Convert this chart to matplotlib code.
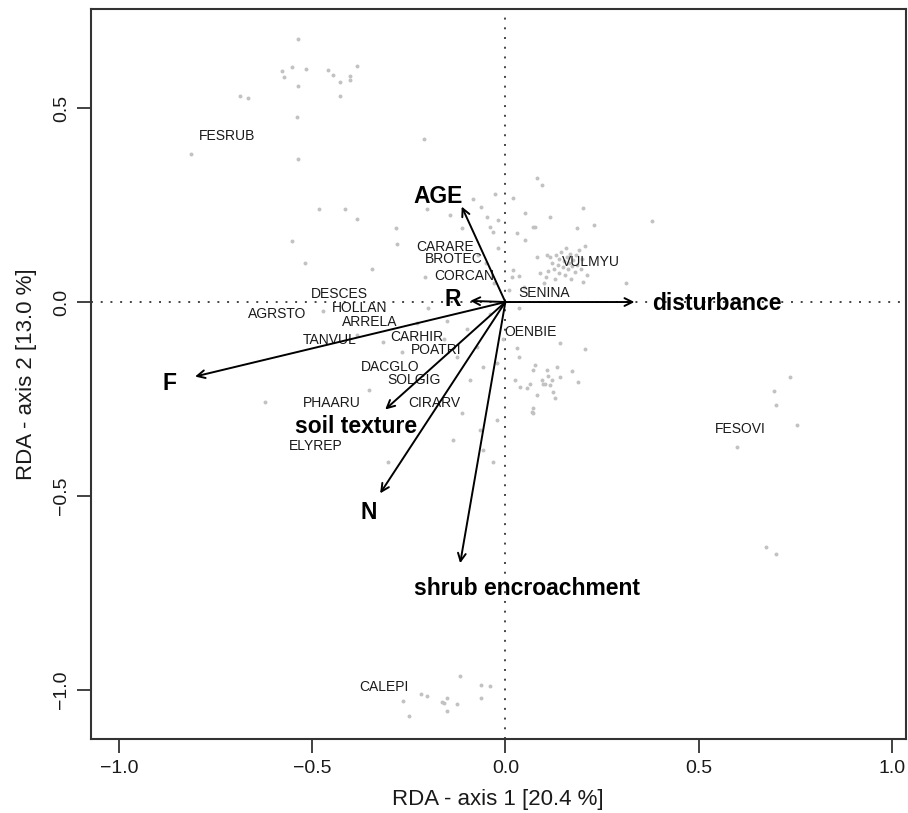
"""RDA biplot: sites as grey dots, species names and environmental arrows."""

import matplotlib
matplotlib.use("Agg")
import matplotlib.pyplot as plt

plt.rcParams['font.family'] = ['Liberation Sans', 'DejaVu Sans']

# Site scores (grey dots).
site_x = [-0.537, -0.579, -0.574, -0.553, -0.516, -0.459, -0.447, -0.428, -0.402, -0.402, -0.385, -0.537,
          -0.686, -0.667, -0.428, -0.540, -0.813, -0.536, -0.210, -0.481, -0.415, -0.385, -0.551, -0.518,
          -0.346, -0.284, -0.281,
          -0.083, -0.028, -0.063, -0.048, -0.040, -0.018, -0.031, 0.021, 0.051, 0.081, 0.094, 0.072, 0.029,
          0.051, -0.113, -0.203, -0.143, 0.017, 0.036, 0.081, 0.107, -0.208, 0.200, 0.230, 0.185, 0.379,
          0.311, 0.200, 0.116, 0.077, 0.021, 0.047, -0.070, -0.050, -0.020, 0.010, -0.030,
          0.115, 0.120, 0.125, 0.130, 0.135, 0.140, 0.140, 0.145, 0.150, 0.152, 0.155, 0.160, 0.162, 0.165,
          0.168, 0.170, 0.172, 0.175, 0.180, 0.182, 0.185, 0.190, 0.195, 0.198, 0.205, 0.210, 0.105, 0.110,
          0.128, 0.158, 0.090, 0.100,
          0.077, 0.107, 0.133, 0.172, 0.094, 0.103, 0.120, 0.142, 0.189, 0.055, 0.081, 0.124, 0.129, 0.072,
          0.072, 0.206, 0.142, 0.029, 0.025, 0.034, 0.038, 0.064, 0.098, 0.068, 0.072, 0.110, 0.115,
          -0.471, -0.316, -0.268, -0.354, -0.622, -0.304, -0.135, -0.113, -0.065, -0.057, -0.091, -0.057,
          -0.074, -0.022, -0.005, -0.022, -0.031, -0.126, -0.160, -0.229, -0.199, 0.034, -0.385, -0.150,
          -0.100, -0.040,
          0.736, 0.694, 0.700, 0.754, 0.599, 0.675, 0.700,
          -0.118, -0.064, -0.040, -0.219, -0.204, -0.152, -0.163, -0.160, -0.125, -0.063, -0.264, -0.150,
          -0.249]
site_y = [0.678, 0.596, 0.581, 0.606, 0.601, 0.598, 0.584, 0.567, 0.582, 0.572, 0.608, 0.557,
          0.531, 0.526, 0.531, 0.476, 0.381, 0.369, 0.420, 0.240, 0.240, 0.214, 0.158, 0.100,
          0.084, 0.192, 0.150,
          0.265, 0.278, 0.246, 0.220, 0.194, 0.211, 0.181, 0.267, 0.229, 0.319, 0.302, 0.194, 0.177,
          0.160, 0.190, 0.241, 0.224, 0.065, 0.067, 0.117, 0.121, 0.065, 0.243, 0.198, 0.190, 0.210,
          0.050, 0.052, 0.220, 0.193, 0.082, 0.039, 0.120, 0.100, 0.140, 0.030, 0.050,
          0.115, 0.100, 0.085, 0.120, 0.095, 0.075, 0.110, 0.130, 0.090, 0.105, 0.070, 0.115, 0.085, 0.100,
          0.125, 0.060, 0.092, 0.108, 0.078, 0.120, 0.095, 0.135, 0.085, 0.110, 0.145, 0.070, 0.065, 0.080,
          0.060, 0.140, 0.075, 0.050,
          -0.162, -0.175, -0.167, -0.177, -0.201, -0.210, -0.201, -0.193, -0.205, -0.222, -0.240, -0.231,
          -0.248, -0.274, -0.287, -0.122, -0.105, -0.119, -0.201, -0.141, -0.218, -0.210, -0.210, -0.283,
          -0.175, -0.190, -0.215,
          -0.022, -0.102, -0.130, -0.227, -0.257, -0.412, -0.356, -0.287, -0.330, -0.381, -0.201, -0.167,
          -0.115, -0.158, -0.094, -0.304, -0.412, -0.141, -0.094, -0.055, -0.016, -0.016, -0.085, -0.050,
          -0.070, -0.030,
          -0.193, -0.229, -0.265, -0.317, -0.373, -0.632, -0.648,
          -0.963, -0.986, -0.989, -1.010, -1.014, -1.020, -1.030, -1.033, -1.036, -1.021, -1.027, -1.053,
          -1.066]

# Species labels.
species = ['FESRUB', 'CARARE', 'BROTEC', 'CORCAN', 'VULMYU', 'SENINA', 'DESCES', 'HOLLAN', 'AGRSTO',
           'ARRELA', 'TANVUL', 'CARHIR', 'POATRI', 'OENBIE', 'DACGLO', 'SOLGIG', 'PHAARU', 'CIRARV',
           'ELYREP', 'FESOVI', 'CALEPI']
species_x = [-0.720, -0.156, -0.133, -0.107, 0.222, 0.101, -0.430, -0.378, -0.591,
             -0.350, -0.455, -0.229, -0.180, 0.066, -0.298, -0.236, -0.449, -0.184,
             -0.491, 0.607, -0.315]
species_y = [0.428, 0.143, 0.110, 0.067, 0.104, 0.024, 0.021, -0.016, -0.031,
             -0.052, -0.098, -0.089, -0.124, -0.078, -0.168, -0.201, -0.261, -0.261,
             -0.370, -0.326, -0.991]

# Environmental arrows (tips) and their labels.
env_names = ['AGE', 'R', 'disturbance', 'F', 'soil texture', 'N', 'shrub encroachment']
env_x = [-0.113, -0.091, 0.334, -0.803, -0.311, -0.324, -0.117]
env_y = [0.246, 0.003, 0.000, -0.192, -0.277, -0.493, -0.673]
env_label_x = [-0.175, -0.137, 0.547, -0.869, -0.387, -0.353, 0.055]
env_label_y = [0.273, 0.006, -0.005, -0.211, -0.321, -0.542, -0.738]

fig = plt.figure(figsize=(9.08, 8.13), dpi=100)
ax = fig.add_axes([0.0999, 0.0910, 0.8976, 0.8979])

ax.axhline(0, color='#444444', linestyle=(0, (1, 4)), linewidth=1.4, zorder=1)
ax.axvline(0, color='#444444', linestyle=(0, (1, 4)), linewidth=1.4, zorder=1)

ax.scatter(site_x, site_y, s=8, color='#c2c2c2', linewidths=0, zorder=2)

for name, x, y in zip(species, species_x, species_y):
    ax.text(x, y, name, fontsize=10, color='#1a1a1a', ha='center', va='center', zorder=3)

for x, y in zip(env_x, env_y):
    ax.annotate('', xy=(x, y), xytext=(0, 0),
                arrowprops=dict(arrowstyle='->', color='black', lw=1.4,
                                mutation_scale=14, shrinkA=0, shrinkB=0), zorder=4)

for name, x, y in zip(env_names, env_label_x, env_label_y):
    ax.text(x, y, name, fontsize=16.5, fontweight='bold', color='black', ha='center', va='center', zorder=5)

ax.set_xlim(-1.073, 1.036)
ax.set_ylim(-1.126, 0.755)
ax.set_xticks([-1.0, -0.5, 0.0, 0.5, 1.0])
ax.set_yticks([-1.0, -0.5, 0.0, 0.5])
ax.set_xticklabels(['\u22121.0', '\u22120.5', '0.0', '0.5', '1.0'])
ax.set_yticklabels(['\u22121.0', '\u22120.5', '0.0', '0.5'])
ax.tick_params(length=10, width=1.3, color='#333333', labelsize=14, pad=5, labelcolor='#1a1a1a')
ax.tick_params(axis='y', labelrotation=90)
for lab in ax.get_yticklabels():
    lab.set_va('center')
for side in ax.spines.values():
    side.set_linewidth(1.5)
    side.set_color('#333333')

ax.set_xlabel('RDA - axis 1 [20.4 %]', fontsize=16, color='#1a1a1a')
ax.set_ylabel('RDA - axis 2 [13.0 %]', fontsize=16, color='#1a1a1a')
ax.xaxis.set_label_coords(0.5, -0.068)
ax.yaxis.set_label_coords(-0.066, 0.5)

fig.savefig('out.png', dpi=100)
